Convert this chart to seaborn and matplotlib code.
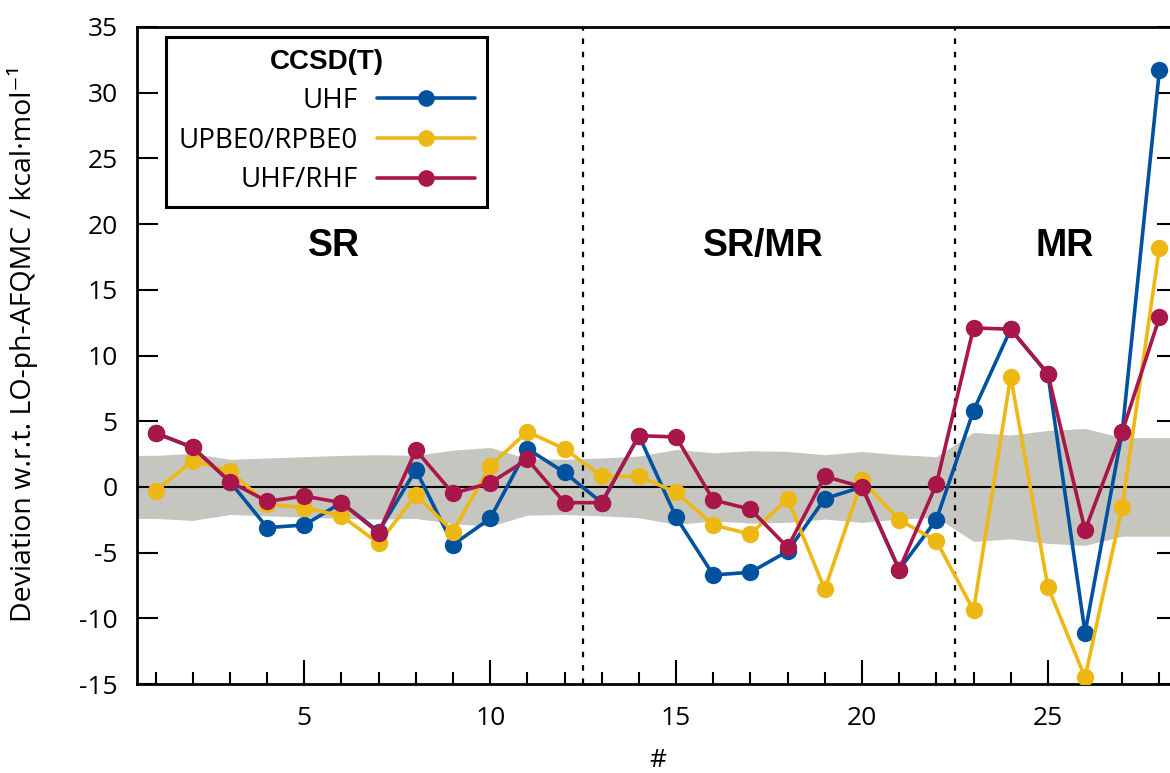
import numpy as np
import pandas as pd
import matplotlib
matplotlib.use("Agg")
import matplotlib.pyplot as plt
from matplotlib.lines import Line2D
from matplotlib.font_manager import FontProperties
from matplotlib.ticker import MultipleLocator
import seaborn as sns

# Data
case = list(range(1, 29))
uhf = [4.1, 3.0, 0.4, -3.1, -2.9, -1.2, -3.4, 1.3, -4.4, -2.4, 2.9, 1.1, -1.2, 3.9,
       -2.3, -6.7, -6.5, -4.9, -0.9, 0.0, -6.3, -2.5, 5.8, 12.0, 8.6, -11.1, 4.2, 31.7]
upbe0 = [-0.3, 2.0, 1.2, -1.3, -1.6, -2.2, -4.3, -0.6, -3.4, 1.6, 4.2, 2.9, 0.8, 0.8,
         -0.4, -2.9, -3.6, -0.9, -7.8, 0.5, -2.5, -4.1, -9.4, 8.4, -7.6, -14.5, -1.5, 18.2]
uhf_rhf = [4.1, 3.0, 0.4, -1.1, -0.7, -1.2, -3.5, 2.8, -0.5, 0.3, 2.1, -1.2, -1.2, 3.9,
           3.8, -1.0, -1.7, -4.6, 0.8, 0.0, -6.3, 0.2, 12.1, 12.0, 8.6, -3.3, 4.2, 12.9]
# AFQMC error band (+/-)
band = [2.4, 2.55, 2.1, 2.2, 2.3, 2.4, 2.45, 2.4, 2.8, 3.0, 2.15, 2.1, 2.2, 2.35,
        2.85, 2.6, 2.75, 2.7, 2.45, 2.7, 2.45, 2.3, 4.15, 3.95, 4.3, 4.45, 3.75, 3.75]

methods = ["UHF", "UPBE0/RPBE0", "UHF/RHF"]
colors = ["#00529f", "#edb814", "#a9164a"]
region_labels = ["SR", "SR/MR", "MR"]
region_x = [5.8, 17.35, 25.45]
region_bounds = [12.5, 22.5]

df = pd.DataFrame({
    "#": case * 3,
    "dev": uhf + upbe0 + uhf_rhf,
    "method": [m for m in methods for _ in case],
})

sns.set_style("ticks")
plt.rcParams["font.family"] = ["Open Sans", "DejaVu Sans"]
plt.rcParams.update({
    "axes.linewidth": 2.0,
    "axes.edgecolor": "black",
    "axes.labelcolor": "black",
    "text.color": "black",
    "xtick.color": "black",
    "ytick.color": "black",
    "axes.unicode_minus": False,
})

fig = plt.figure(figsize=(11.7, 7.73), dpi=100)
ax = fig.add_axes([137 / 1170, 89 / 773, 1041 / 1170, 657 / 773])
xlim = (0.5, 28.5)
ax.set_xlim(*xlim)
ax.set_ylim(-15, 35)

# grey band, stretched to the axis edges
bx = np.r_[xlim[0], case, xlim[1]]
bw = np.r_[band[0], band, band[-1]]
ax.fill_between(bx, -bw, bw, color="#c5c6c0", lw=0, zorder=1)
ax.axhline(0, color="black", lw=1.5, zorder=2)
for b in region_bounds:
    ax.axvline(b, color="black", lw=1.6, dashes=(2.5, 3.5), zorder=2)

sns.lineplot(data=df, x="#", y="dev", hue="method", hue_order=methods,
             palette=colors, marker="o", markersize=12.5, markeredgewidth=0,
             linewidth=2.6, legend=False, ax=ax, zorder=3)

for lab, xx in zip(region_labels, region_x):
    ax.text(xx, 18.3, lab, ha="center", va="center", fontsize=27,
            fontweight="bold", family="Liberation Sans")

ax.xaxis.set_major_locator(MultipleLocator(5))
ax.xaxis.set_minor_locator(MultipleLocator(1))
ax.yaxis.set_major_locator(MultipleLocator(5))
ax.tick_params(axis="x", which="major", direction="in", length=17, width=1.5,
               labelsize=19, pad=16, top=False)
ax.tick_params(axis="x", which="minor", direction="in", length=9, width=1.5, top=False)
ax.tick_params(axis="y", direction="in", length=15, width=1.5, labelsize=19,
               pad=14, right=True)
ax.set_xlabel("#", fontsize=19)
ax.set_ylabel("Deviation w.r.t. LO-ph-AFQMC / kcal·mol⁻¹", fontsize=20.5)
ax.xaxis.set_label_coords(0.5, -0.097)
ax.yaxis.set_label_coords(-0.095, 0.518)

handles = [Line2D([], [], color=c, lw=2.6, marker="o", markersize=12,
                  markeredgewidth=0) for c in colors]
leg = ax.legend(handles, methods, title="CCSD(T)", markerfirst=False,
                loc="upper left", bbox_to_anchor=(0.028, 0.985), borderaxespad=0,
                fontsize=20, handlelength=3.5, handletextpad=0.7, labelspacing=0.42,
                borderpad=0.45, fancybox=False, framealpha=1, edgecolor="black",
                title_fontproperties=FontProperties(family="Liberation Sans",
                                                    weight="bold", size=20))
leg.get_frame().set_linewidth(2.2)

fig.savefig("out.png", dpi=100)
